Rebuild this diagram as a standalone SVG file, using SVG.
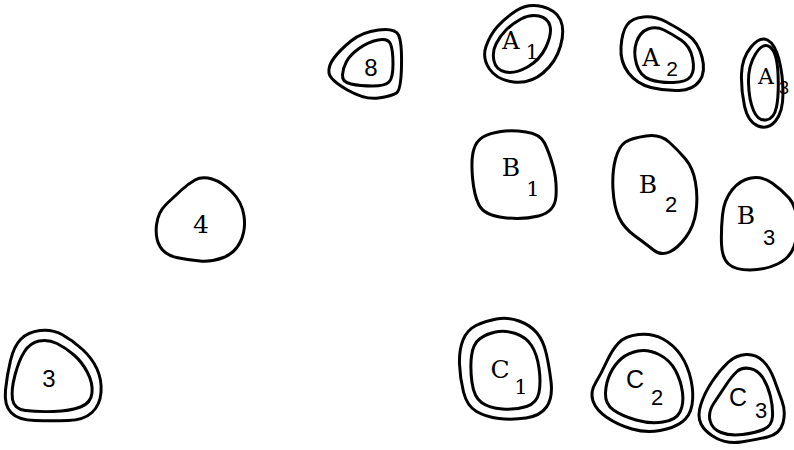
<svg xmlns="http://www.w3.org/2000/svg" width="794" height="450" viewBox="0 0 794 450">
<style>
.b{fill:none;stroke:#000;stroke-width:3;stroke-linejoin:round}
.m{font-family:"DejaVu Serif","Liberation Serif",serif;fill:#000;text-anchor:middle}
.s{font-family:"Liberation Sans",Arial,sans-serif;fill:#000;text-anchor:middle}
</style>
<rect width="794" height="450" fill="#fff"/>
<g id="connectors"/>
<g id="n8">
<path class="b" d="M334,58 Q340,50 351,41 Q362,32 378.5,30 Q395,28 398.5,35 Q402,42 401.5,66 Q401,90 396.5,93 Q392,96 378.5,98 Q365,100 347.5,90 Q330,80 329,73 Q328,66 334,58 Z"/>
<path class="b" d="M346.5,61.5 Q350,55 359,48.5 Q368,42 378,40 Q388,38 390.5,44 Q393,50 393,64 Q393,78 389,82 Q385,86 372.5,86 Q360,86 351,84 Q342,82 342.5,75 Q343,68 346.5,61.5 Z"/>
<text class="s" x="371" y="76" font-size="24">8</text>
</g>
<g id="nA1">
<path class="b" d="M497.5,26.5 Q505,18 516.5,10.5 Q528,3 542,6.5 Q556,10 560.5,20 Q565,30 560.5,46 Q556,62 543,73 Q530,84 513.5,82 Q497,80 489.5,69 Q482,58 486,46.5 Q490,35 497.5,26.5 Z"/>
<path class="b" d="M506,30 Q512,24 521,19 Q530,14 539,16 Q548,18 550,26 Q552,34 546,47 Q540,60 527.5,67 Q515,74 505.5,72 Q496,70 494,61 Q492,52 496,44 Q500,36 506,30 Z"/>
<text class="m" x="511" y="49" font-size="24">A</text>
<text class="m" x="532" y="59" font-size="20">1</text>
</g>
<g id="nA2">
<path class="b" d="M627,25 Q632,18 643.5,17 Q655,16 666.5,22 Q678,28 688,35 Q698,42 702,57 Q706,72 699.5,81 Q693,90 679,90.5 Q665,91 651,87.5 Q637,84 628.5,73 Q620,62 621,47 Q622,32 627,25 Z"/>
<path class="b" d="M636.5,42 Q640,32 648,29 Q656,26 664,30 Q672,34 681,40 Q690,46 692.5,58 Q695,70 691,76 Q687,82 673.5,82.5 Q660,83 650,79.5 Q640,76 636.5,64 Q633,52 636.5,42 Z"/>
<text class="m" x="651" y="66" font-size="24">A</text>
<text class="s" x="672" y="76" font-size="21">2</text>
</g>
<g id="nA3">
<path class="b" d="M751,47 Q760,36 767.5,40 Q775,44 779,59.5 Q783,75 783,93.5 Q783,112 775.5,121 Q768,130 758,126 Q748,122 744.5,106 Q741,90 741.5,74 Q742,58 751,47 Z"/>
<path class="b" d="M755.5,54 Q763,42 770,47 Q777,52 778,73.5 Q779,95 776.5,107 Q774,119 766,120 Q758,121 753.5,110.5 Q749,100 748.5,83 Q748,66 755.5,54 Z"/>
<text class="m" x="766" y="84" font-size="22">A</text>
<text class="s" x="784" y="94" font-size="18">3</text>
</g>
<g id="nB1">
<path class="b" d="M483,137 Q490,133 501,131.5 Q512,130 526,132 Q540,134 544.5,143 Q549,152 553,166 Q557,180 556,196 Q555,212 538.5,216 Q522,220 503,217.5 Q484,215 479,205 Q474,195 472.5,177.5 Q471,160 473.5,150.5 Q476,141 483,137 Z"/>
<text class="m" x="511" y="176" font-size="25">B</text>
<text class="m" x="533" y="196" font-size="21">1</text>
</g>
<g id="nB2">
<path class="b" d="M625.5,142 Q632,138 646,136 Q660,134 669,142 Q678,150 685.5,159 Q693,168 695.5,182.5 Q698,197 696,211.5 Q694,226 686,237 Q678,248 669.5,252 Q661,256 653.5,250 Q646,244 635,236 Q624,228 619,217.5 Q614,207 613,189.5 Q612,172 615.5,159 Q619,146 625.5,142 Z"/>
<text class="m" x="648" y="193" font-size="25">B</text>
<text class="s" x="671" y="212" font-size="22">2</text>
</g>
<g id="nB3">
<path class="b" d="M732,190 Q740,180 751,178 Q762,176 772,183 Q782,190 789,198 Q796,206 797,220.5 Q798,235 794,246.5 Q790,258 777.5,264 Q765,270 750,270 Q735,270 728.5,264 Q722,258 721.5,244 Q721,230 722.5,215 Q724,200 732,190 Z"/>
<text class="m" x="746" y="224" font-size="25">B</text>
<text class="s" x="769" y="245" font-size="22">3</text>
</g>
<g id="n4">
<path class="b" d="M195,180 Q202,176 212,179 Q222,182 232,192 Q242,202 244,216 Q246,230 240.5,241.5 Q235,253 223.5,257.5 Q212,262 200,261 Q188,260 176.5,257.5 Q165,255 160,246.5 Q155,238 156.5,225 Q158,212 166.5,204 Q175,196 181.5,190 Q188,184 195,180 Z"/>
<text class="m" x="201" y="233" font-size="25">4</text>
</g>
<g id="n3">
<path class="b" d="M21,339 Q28,332 40,330.5 Q52,329 62,334.5 Q72,340 82,349 Q92,358 97,369 Q102,380 101,392.5 Q100,405 92,412.5 Q84,420 68,420.5 Q52,421 35,420.5 Q18,420 11,412.5 Q4,405 5.5,390 Q7,375 10.5,360.5 Q14,346 21,339 Z"/>
<path class="b" d="M24.5,351.5 Q30,343 39,341 Q48,339 57,343.5 Q66,348 74,355 Q82,362 87.5,372.5 Q93,383 92,393 Q91,403 80.5,407 Q70,411 53.5,411.5 Q37,412 25.5,410.5 Q14,409 12.5,399.5 Q11,390 15,375 Q19,360 24.5,351.5 Z"/>
<text class="s" x="49" y="387" font-size="24">3</text>
</g>
<g id="nC1">
<path class="b" d="M476,325.5 Q485,321 496.5,319 Q508,317 519,321 Q530,325 536.5,332.5 Q543,340 546,352.5 Q549,365 551,381.5 Q553,398 546.5,407 Q540,416 526,418 Q512,420 499,418.5 Q486,417 476.5,411.5 Q467,406 463.5,392 Q460,378 459.5,364 Q459,350 463,340 Q467,330 476,325.5 Z"/>
<path class="b" d="M479.5,339 Q486,334 495.5,332 Q505,330 515.5,333.5 Q526,337 531.5,345.5 Q537,354 539,368 Q541,382 539,392.5 Q537,403 526.5,406.5 Q516,410 502.5,409 Q489,408 481.5,402.5 Q474,397 472,382.5 Q470,368 471.5,356 Q473,344 479.5,339 Z"/>
<text class="m" x="500" y="378" font-size="25">C</text>
<text class="m" x="521" y="394" font-size="21">1</text>
</g>
<g id="nC2">
<path class="b" d="M618.5,343 Q625,336 638.5,334.5 Q652,333 663,339 Q674,345 681,355.5 Q688,366 691,380 Q694,394 692,405 Q690,416 682,422 Q674,428 660,430.5 Q646,433 632,429 Q618,425 607,417.5 Q596,410 593,401 Q590,392 595.5,383 Q601,374 606.5,362 Q612,350 618.5,343 Z"/>
<path class="b" d="M621.5,358.5 Q628,353 638,351 Q648,349 659,354.5 Q670,360 675.5,370.5 Q681,381 682.5,392.5 Q684,404 680,412 Q676,420 663,422 Q650,424 636,420 Q622,416 613.5,410 Q605,404 605.5,393 Q606,382 610.5,373 Q615,364 621.5,358.5 Z"/>
<text class="s" x="635" y="388" font-size="25">C</text>
<text class="s" x="657" y="405" font-size="22">2</text>
</g>
<g id="nC3">
<path class="b" d="M728,362.5 Q736,355 746,354.5 Q756,354 763,361 Q770,368 774,379 Q778,390 782,401 Q786,412 783,423 Q780,434 767.5,437 Q755,440 741,442 Q727,444 716,438 Q705,432 701,424 Q697,416 701,404 Q705,392 712.5,381 Q720,370 728,362.5 Z"/>
<path class="b" d="M737,371.5 Q742,367 750,368.5 Q758,370 763,378 Q768,386 770.5,396.5 Q773,407 772.5,416.5 Q772,426 763.5,429.5 Q755,433 742.5,434.5 Q730,436 721,432.5 Q712,429 710,420.5 Q708,412 714,403 Q720,394 726,385 Q732,376 737,371.5 Z"/>
<text class="s" x="738" y="406" font-size="25">C</text>
<text class="s" x="761" y="418" font-size="22">3</text>
</g>
</svg>
